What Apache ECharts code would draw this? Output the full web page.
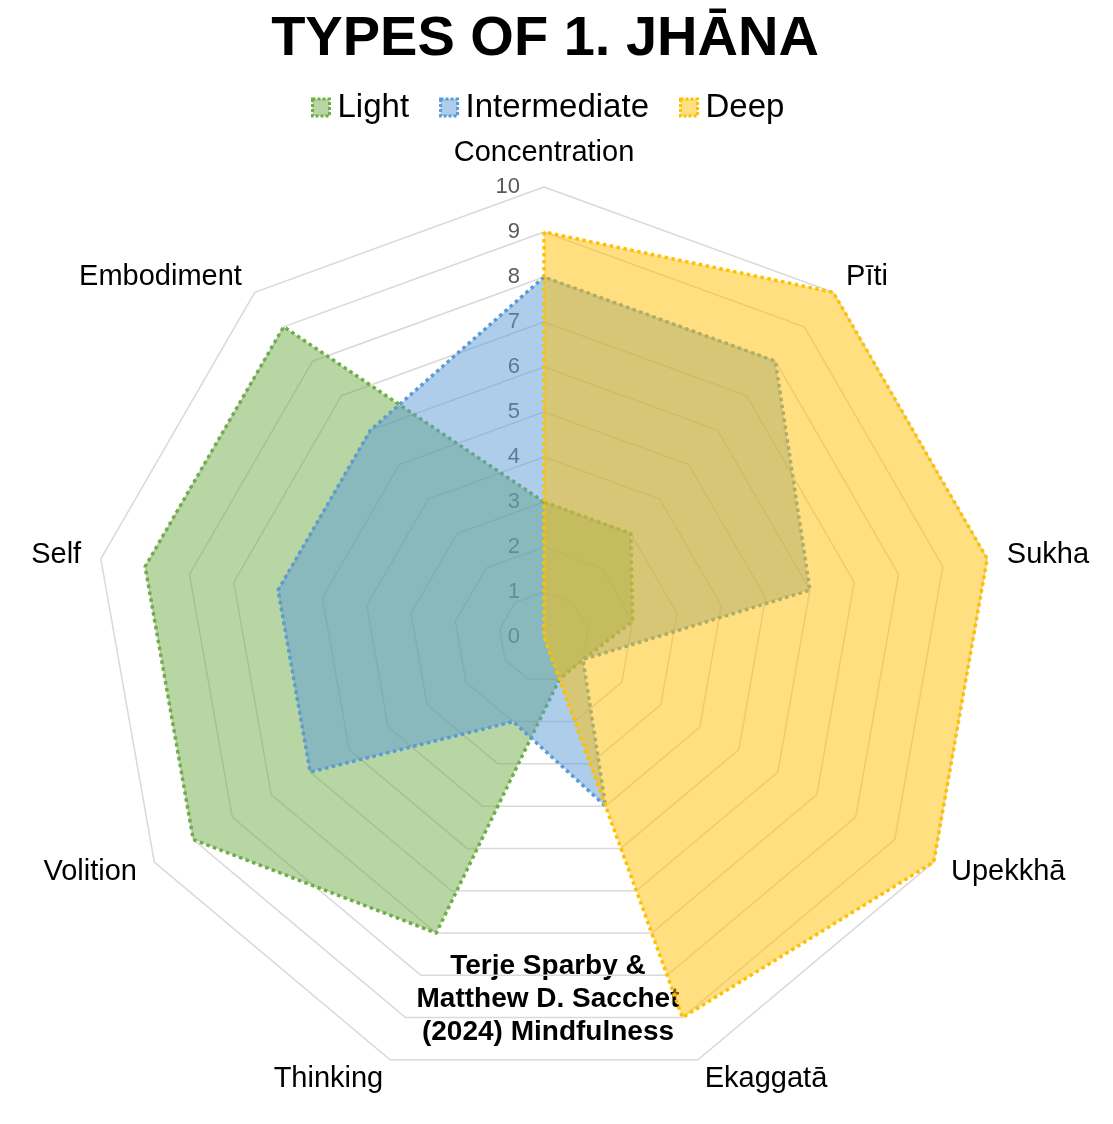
<!DOCTYPE html>
<html>
<head>
<meta charset="utf-8">
<script src="https://cdn.jsdelivr.net/npm/echarts@6/dist/echarts.min.js"></script>
<style>
html,body{margin:0;padding:0;background:#fff;}
#chart{width:1113px;height:1124px;}
</style>
</head>
<body>
<div id="chart"></div>
<script>
// Categories in clockwise order starting at the top
const categories = ['Concentration', 'Pīti', 'Sukha', 'Upekkhā', 'Ekaggatā', 'Thinking', 'Volition', 'Self', 'Embodiment'];
const seriesNames = ['Light', 'Intermediate', 'Deep'];
const light = [3, 3, 2, 1, 1, 7, 9, 9, 9];
const intermediate = [8, 8, 6, 1, 4, 2, 6, 6, 6];
const deep = [9, 10, 10, 10, 9, 0, 0, 0, 0];
const axisMax = 10;
const annotation = ['Terje Sparby &', 'Matthew D. Sacchet', '(2024) Mindfulness'];

const FONT = '"Liberation Sans", Arial, Helvetica, sans-serif';
const lineColors = ['#70AD47', '#5B9BD5', '#FFC000'];
const fillColors = ['rgba(112,173,71,0.5)', 'rgba(91,155,213,0.5)', 'rgba(255,192,0,0.5)'];

// ECharts places radar indicators counter-clockwise; reorder to draw clockwise
function cw(arr) { return [arr[0]].concat(arr.slice(1).reverse()); }

const indicator = cw(categories).map((n, i) => {
  const o = { name: n, max: axisMax, min: 0 };
  if (i === 0) o.axisLabel = { show: true };
  return o;
});

const allValues = [light, intermediate, deep];

const option = {
  backgroundColor: '#ffffff',
  animation: false,
  title: {
    text: 'TYPES OF 1. JHĀNA',
    left: 540,
    textAlign: 'center',
    top: 7,
    textStyle: { fontFamily: FONT, fontSize: 56, fontWeight: 'bold', color: '#000' }
  },
  legend: {
    top: 86,
    left: 306,
    icon: 'rect',
    itemWidth: 17,
    itemHeight: 17,
    itemGap: 30,
    textStyle: { fontFamily: FONT, fontSize: 33, color: '#000', padding: [0, 0, 0, 3] },
    data: seriesNames.map((n, i) => ({
      name: n,
      itemStyle: { color: fillColors[i], borderColor: lineColors[i], borderWidth: 3, borderType: [3, 2] }
    }))
  },
  radar: {
    center: [544, 637],
    radius: 450,
    startAngle: 90,
    shape: 'polygon',
    splitNumber: 10,
    indicator: indicator,
    axisName: { fontFamily: FONT, fontSize: 29, color: '#000' },
    nameGap: 20,
    axisLine: { show: false },
    axisTick: { show: false },
    axisLabel: { show: false, fontFamily: FONT, fontSize: 22, color: '#595959', margin: 24 },
    splitLine: { lineStyle: { color: '#d9d9d9', width: 1.5 } },
    splitArea: { show: false }
  },
  series: [{
    type: 'radar',
    symbol: 'none',
    data: seriesNames.map((n, i) => ({
      name: n,
      value: cw(allValues[i]),
      lineStyle: { color: lineColors[i], width: 3.5, type: [3.5, 3.5], cap: 'butt' },
      areaStyle: { color: fillColors[i], opacity: 1 },
      itemStyle: { color: lineColors[i] }
    }))
  }],
  graphic: [{
    type: 'text',
    x: 548,
    y: 950,
    silent: true,
    style: {
      text: annotation.join('\n'),
      textAlign: 'center',
      fontFamily: FONT,
      fontSize: 28,
      fontWeight: 'bold',
      lineHeight: 33,
      fill: '#000'
    }
  }]
};

const chart = echarts.init(document.getElementById('chart'), null, { renderer: 'canvas' });
chart.setOption(option);
</script>
</body>
</html>
